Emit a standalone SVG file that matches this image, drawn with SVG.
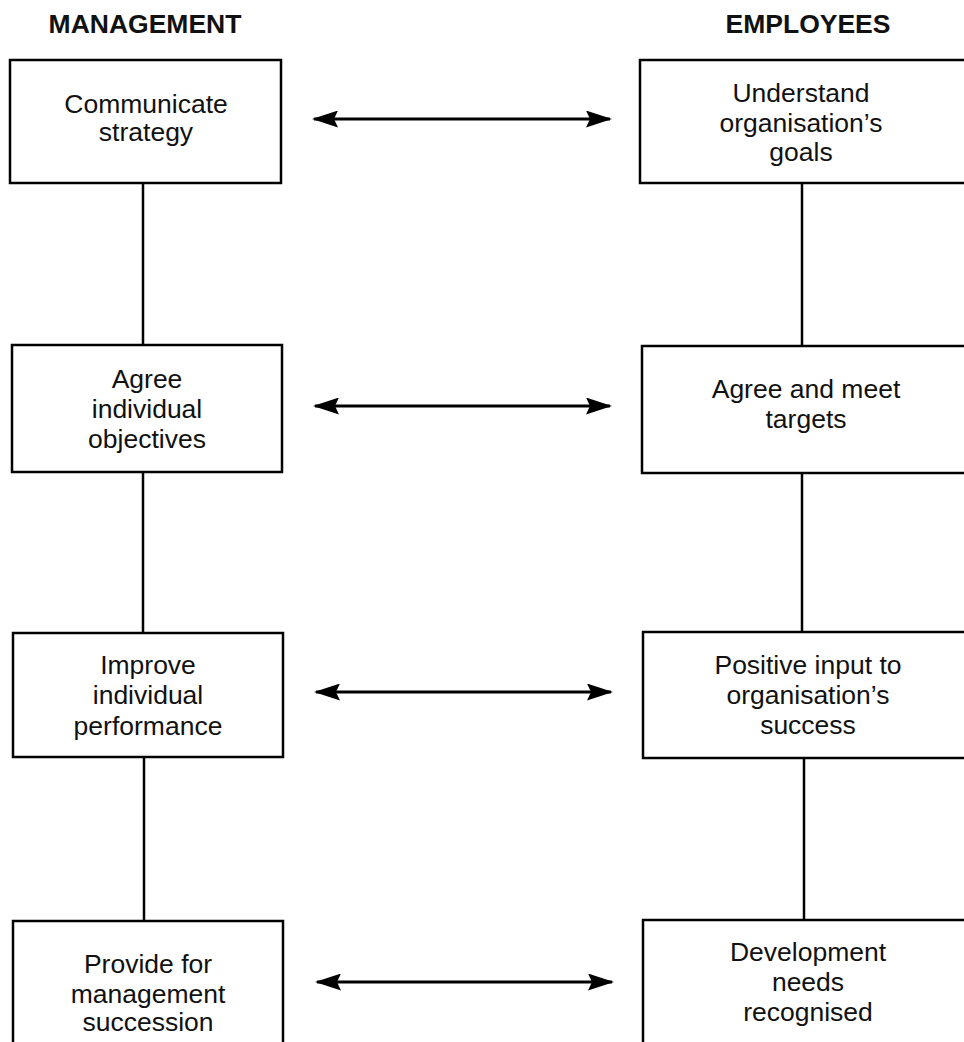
<svg xmlns="http://www.w3.org/2000/svg" width="964" height="1042" viewBox="0 0 964 1042">
<style>
.box{fill:#fff;stroke:#000;stroke-width:2.5}
.t{font-family:"Liberation Sans",Arial,sans-serif;font-size:26.5px;fill:#111;text-anchor:middle}
.h{font-family:"Liberation Sans",Arial,sans-serif;font-size:26.5px;font-weight:bold;fill:#111;text-anchor:middle}
.ln{stroke:#000;stroke-width:2.5;fill:none}
.ar{stroke:#000;stroke-width:3;fill:none;marker-start:url(#ah);marker-end:url(#ah)}
</style>
<defs>
<marker id="ah" viewBox="0 0 27 17" refX="25" refY="8.5" markerWidth="27" markerHeight="17" markerUnits="userSpaceOnUse" orient="auto-start-reverse">
<path d="M27,8.5 L1,0 L5,8.5 L1,17 Z" fill="#000"/>
</marker>
</defs>
<g id="headers">
<text class="h" x="145" y="33">MANAGEMENT</text>
<text class="h" x="808" y="33">EMPLOYEES</text>
</g>
<g id="connectors">
<line class="ln" x1="143" y1="183" x2="143" y2="345"/>
<line class="ln" x1="143" y1="472" x2="143" y2="633"/>
<line class="ln" x1="144" y1="757" x2="144" y2="921"/>
<line class="ln" x1="802" y1="183" x2="802" y2="346"/>
<line class="ln" x1="802" y1="473" x2="802" y2="632"/>
<line class="ln" x1="804" y1="758" x2="804" y2="920"/>
<line class="ar" x1="314" y1="119" x2="610" y2="119"/>
<line class="ar" x1="315" y1="406" x2="610" y2="406"/>
<line class="ar" x1="316" y1="692" x2="611" y2="692"/>
<line class="ar" x1="317" y1="982" x2="612" y2="982"/>
</g>
<g id="m1">
<rect class="box" x="10" y="60" width="271" height="123"/>
<text class="t" x="146" y="113">Communicate</text>
<text class="t" x="146" y="141">strategy</text>
</g>
<g id="e1">
<rect class="box" x="640" y="60" width="330" height="123"/>
<text class="t" x="801" y="102">Understand</text>
<text class="t" x="801" y="132">organisation’s</text>
<text class="t" x="801" y="161">goals</text>
</g>
<g id="m2">
<rect class="box" x="12" y="345" width="270" height="127"/>
<text class="t" x="147" y="388">Agree</text>
<text class="t" x="147" y="418">individual</text>
<text class="t" x="147" y="448">objectives</text>
</g>
<g id="e2">
<rect class="box" x="642" y="346" width="330" height="127"/>
<text class="t" x="806" y="398">Agree and meet</text>
<text class="t" x="806" y="428">targets</text>
</g>
<g id="m3">
<rect class="box" x="13" y="633" width="270" height="124"/>
<text class="t" x="148" y="674">Improve</text>
<text class="t" x="148" y="704">individual</text>
<text class="t" x="148" y="735">performance</text>
</g>
<g id="e3">
<rect class="box" x="643" y="632" width="330" height="126"/>
<text class="t" x="808" y="674">Positive input to</text>
<text class="t" x="808" y="704">organisation’s</text>
<text class="t" x="808" y="734">success</text>
</g>
<g id="m4">
<rect class="box" x="13" y="921" width="270" height="130"/>
<text class="t" x="148" y="973">Provide for</text>
<text class="t" x="148" y="1003">management</text>
<text class="t" x="148" y="1031">succession</text>
</g>
<g id="e4">
<rect class="box" x="643" y="920" width="330" height="130"/>
<text class="t" x="808" y="961">Development</text>
<text class="t" x="808" y="991">needs</text>
<text class="t" x="808" y="1021">recognised</text>
</g>
</svg>
